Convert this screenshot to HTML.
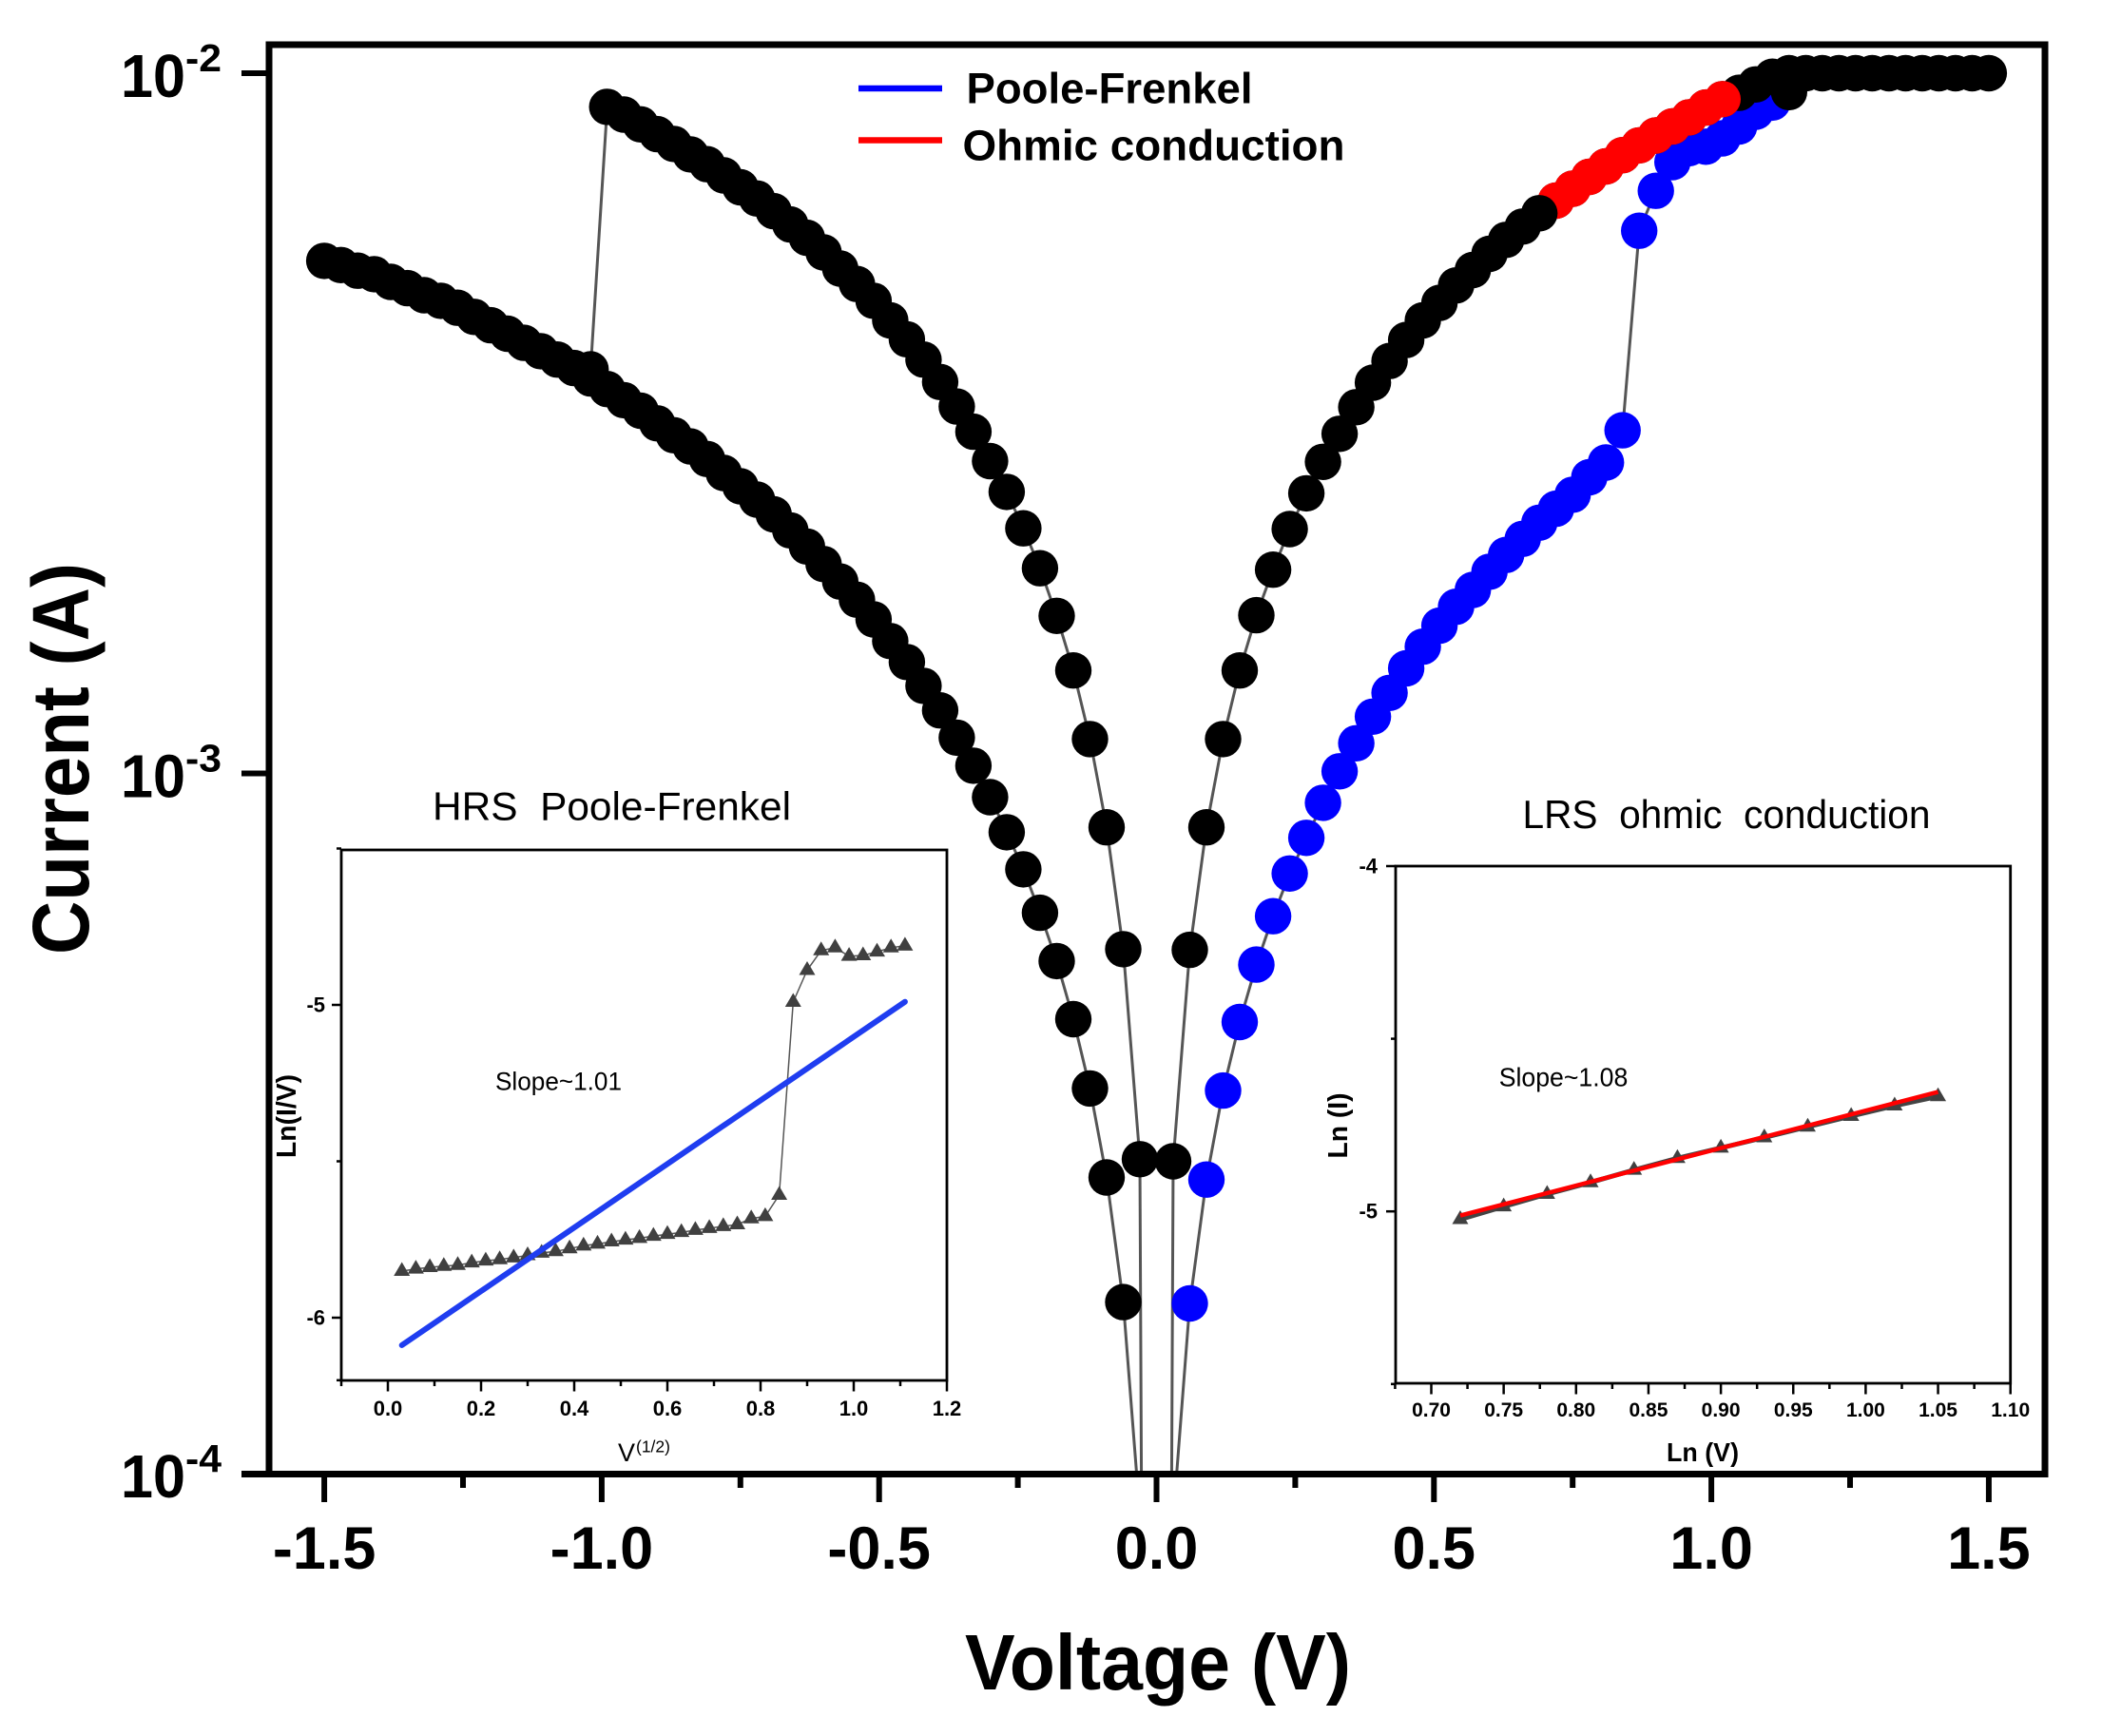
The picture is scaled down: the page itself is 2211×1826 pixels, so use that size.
<!DOCTYPE html>
<html lang="en">
<head>
<meta charset="utf-8">
<title>Current vs Voltage with conduction-mechanism insets</title>
<style>
html,body{margin:0;padding:0;background:#fff;width:2211px;height:1826px;overflow:hidden;}
svg{display:block;}
text{font-family:"Liberation Sans",sans-serif;fill:#000;}
.b{font-weight:bold;}
</style>
</head>
<body>
<svg id="chart" xmlns="http://www.w3.org/2000/svg" width="2211" height="1826" viewBox="0 0 2211 1826">
<defs><clipPath id="plot-clip"><rect x="283" y="47" width="1868" height="1503"></rect></clipPath></defs>
<rect x="0" y="0" width="2211" height="1826" fill="#fff"></rect>
<g id="main-lines" clip-path="url(#plot-clip)"></g>
<g id="main-markers" clip-path="url(#plot-clip)"></g>
<g id="main-axes"></g>
<text class="b" x="1218" y="1777" font-size="83" text-anchor="middle" textLength="406" lengthAdjust="spacingAndGlyphs">Voltage (V)</text>
<text class="b" transform="translate(93,798) rotate(-90)" font-size="84" text-anchor="middle" textLength="412" lengthAdjust="spacingAndGlyphs">Current (A)</text>

<g>
<line x1="903" y1="93" x2="991" y2="93" stroke="#0000ff" stroke-width="6.5"></line>
<text class="b" x="1016.5" y="108.6" font-size="45" textLength="301" lengthAdjust="spacingAndGlyphs">Poole-Frenkel</text>
<line x1="903" y1="147.5" x2="991" y2="147.5" stroke="#ff0000" stroke-width="6.5"></line>
<text class="b" x="1012.5" y="168.4" font-size="45" textLength="402" lengthAdjust="spacingAndGlyphs">Ohmic conduction</text>
</g>

<g id="inset-hrs"></g>
<text x="455" y="862.7" font-size="42" textLength="377" lengthAdjust="spacingAndGlyphs">HRS&#160;&#160;Poole-Frenkel</text>
<text x="521" y="1146.5" font-size="27" textLength="133" lengthAdjust="spacingAndGlyphs">Slope~1.01</text>
<text class="b" transform="translate(311,1174) rotate(-90)" font-size="29" text-anchor="middle" textLength="88" lengthAdjust="spacingAndGlyphs">Ln(I/V)</text>
<text x="650" y="1537" font-size="27">V</text>
<text x="669" y="1527.7" font-size="17.5">(1/2)</text>

<g id="inset-lrs"></g>
<text x="1601.5" y="871" font-size="42" textLength="429" lengthAdjust="spacingAndGlyphs">LRS&#160;&#160;ohmic&#160;&#160;conduction</text>
<text x="1576.7" y="1142.7" font-size="28" textLength="135.6" lengthAdjust="spacingAndGlyphs">Slope~1.08</text>
<text class="b" transform="translate(1417,1184) rotate(-90)" font-size="29" text-anchor="middle" textLength="69" lengthAdjust="spacingAndGlyphs">Ln (I)</text>
<text class="b" x="1753" y="1537" font-size="28" textLength="76" lengthAdjust="spacingAndGlyphs">Ln (V)</text>
</svg>

<script>
// ---------- main chart data: voltage magnitude grid and log10(current) per branch ----------
const voltageMagnitude = [0,0.03,0.06,0.09,0.12,0.15,0.18,0.21,0.24,0.27,0.30,0.33,0.36,0.39,0.42,0.45,0.48,0.51,0.54,0.57,0.60,0.63,0.66,0.69,0.72,0.75,0.78,0.81,0.84,0.87,0.90,0.93,0.96,0.99,1.02,1.05,1.08,1.11,1.14,1.17,1.20,1.23,1.26,1.29,1.32,1.35,1.38,1.41,1.44,1.47,1.50];

const negLowerLogI = [null,-4.06,-3.755,-3.577,-3.450,-3.351,-3.268,-3.199,-3.137,-3.084,-3.034,-2.989,-2.949,-2.910,-2.875,-2.841,-2.811,-2.780,-2.752,-2.726,-2.701,-2.676,-2.653,-2.630,-2.609,-2.590,-2.571,-2.551,-2.533,-2.517,-2.500,-2.482,-2.467,-2.451,-2.436,-2.421,-2.409,-2.397,-2.385,-2.372,-2.360,-2.348,-2.335,-2.325,-2.317,-2.307,-2.298,-2.287,-2.282,-2.274,-2.268];

const negUpperLogI = [null,-3.551,-3.251,-3.077,-2.951,-2.853,-2.775,-2.707,-2.650,-2.598,-2.554,-2.512,-2.476,-2.441,-2.409,-2.380,-2.353,-2.325,-2.301,-2.279,-2.256,-2.235,-2.216,-2.197,-2.179,-2.163,-2.146,-2.130,-2.116,-2.101,-2.087,-2.073,-2.059,-2.048,-2.423];

const posUpperLogI = [null,-3.554,-3.252,-3.077,-2.951,-2.853,-2.774,-2.709,-2.651,-2.600,-2.555,-2.515,-2.477,-2.442,-2.411,-2.381,-2.353,-2.328,-2.303,-2.281,-2.258,-2.238,-2.219,-2.200,-2.182,-2.165,-2.148,-2.133,-2.117,-2.103,-2.089,-2.076,-2.063,-2.049,-2.037,-2.028,-2.016,-2.005,-2,-2,-2,-2,-2,-2,-2,-2,-2,-2,-2,-2,-2];

const posLowerLogI = [null,-4.065,-3.757,-3.580,-3.453,-3.355,-3.273,-3.204,-3.143,-3.092,-3.042,-2.997,-2.957,-2.919,-2.885,-2.850,-2.819,-2.789,-2.762,-2.738,-2.712,-2.688,-2.665,-2.642,-2.622,-2.602,-2.577,-2.556,-2.510,-2.225,-2.168,-2.127,-2.107,-2.105,-2.093,-2.076,-2.055,-2.042];

const ohmicVoltage = [0.72,0.75,0.78,0.81,0.84,0.87,0.90,0.93,0.96,0.99,1.02];
const ohmicLogI = [-2.182,-2.165,-2.148,-2.133,-2.117,-2.103,-2.089,-2.076,-2.063,-2.049,-2.037];

const overlayVoltage = [0.69,1.14];
const overlayLogI = [-2.200,-2.027];

// the steep segments toward V = 0 leave the plot just under V = 0.03; one end point each
const nearZeroVoltage = [0.0273];
const nearZeroLogI = [-4.01];

const xTickValues = [-1.5,-1.0,-0.5,0.0,0.5,1.0,1.5];
const xTickLabels = ["-1.5","-1.0","-0.5","0.0","0.5","1.0","1.5"];
const xMinorTicks = [-1.25,-0.75,-0.25,0.25,0.75,1.25];
const yTickExponents = [-2,-3,-4];

// ---------- HRS inset data ----------
const hrsX = [0.03,0.06,0.09,0.12,0.15,0.18,0.21,0.24,0.27,0.30,0.33,0.36,0.39,0.42,0.45,0.48,0.51,0.54,0.57,0.60,0.63,0.66,0.69,0.72,0.75,0.78,0.81,0.84,0.87,0.90,0.93,0.96,0.99,1.02,1.05,1.08,1.11];
const hrsY = [-5.851,-5.844,-5.839,-5.835,-5.832,-5.824,-5.818,-5.814,-5.808,-5.801,-5.793,-5.788,-5.779,-5.770,-5.764,-5.757,-5.751,-5.746,-5.739,-5.733,-5.727,-5.720,-5.714,-5.708,-5.702,-5.683,-5.676,-5.608,-4.991,-4.889,-4.826,-4.817,-4.844,-4.842,-4.830,-4.817,-4.811];
const hrsFitX = [0.03,1.11];
const hrsFitY = [-6.088,-4.990];
const hrsXTicks = [0.0,0.2,0.4,0.6,0.8,1.0,1.2];
const hrsXLabels = ["0.0","0.2","0.4","0.6","0.8","1.0","1.2"];
const hrsXMinor = [-0.1,0.1,0.3,0.5,0.7,0.9,1.1];
const hrsYTicks = [-5,-6];
const hrsYLabels = ["-5","-6"];
const hrsYMinor = [-4.5,-5.5,-6.2];

// ---------- LRS inset data ----------
const lrsX = [0.72,0.75,0.78,0.81,0.84,0.87,0.90,0.93,0.96,0.99,1.02,1.05];
const lrsY = [-5.023,-4.986,-4.950,-4.916,-4.880,-4.846,-4.816,-4.786,-4.755,-4.724,-4.694,-4.667];
const lrsFitX = [0.72,1.05];
const lrsFitY = [-5.012,-4.654];
const lrsXTicks = [0.70,0.75,0.80,0.85,0.90,0.95,1.00,1.05,1.10];
const lrsXLabels = ["0.70","0.75","0.80","0.85","0.90","0.95","1.00","1.05","1.10"];
const lrsXMinor = [0.675,0.725,0.775,0.825,0.875,0.925,0.975,1.025,1.075];
const lrsYTicks = [-4,-5];
const lrsYLabels = ["-4","-5"];
const lrsYMinor = [-4.5,-5.5];

// ---------- helpers ----------
const NS = "http://www.w3.org/2000/svg";
function mk(parent, tag, attrs, txt){
  const n = document.createElementNS(NS, tag);
  for (const k in attrs) n.setAttribute(k, attrs[k]);
  if (txt !== undefined) n.textContent = txt;
  parent.appendChild(n);
  return n;
}
function xMain(v){ return 1216.5 + v * 583.6; }
function yMain(logI){ return 77 + (-2 - logI) * 736.5; }
function xHrs(v){ return 408 + v * 490; }
function yHrs(v){ return 1057 + (-5 - v) * 329; }
function xLrs(v){ return 1505.5 + (v - 0.70) * 1523; }
function yLrs(v){ return 911 + (-4 - v) * 363.2; }

const lineLayer = document.getElementById("main-lines");
const markerLayer = document.getElementById("main-markers");
const axisLayer = document.getElementById("main-axes");

function branchPoints(sign, values){
  const pts = [];
  values.forEach(function(val, i){
    if (val === null) return;
    pts.push([xMain(sign * voltageMagnitude[i]), yMain(val)]);
  });
  return pts;
}
function drawBranchLine(pts, name){
  const el = mk(lineLayer, "polyline", {points: pts.map(function(p){return p[0].toFixed(1)+","+p[1].toFixed(1);}).join(" "), fill:"none", stroke:"#555", "stroke-width":3});
  
  
}
function drawBranchMarkers(pts, color, name){
  pts.forEach(function(p){
    if (p[1] > 1569) return;
    const c = mk(markerLayer, "circle", {cx:p[0].toFixed(1), cy:p[1].toFixed(1), r:19.2, fill:color});
    
    
  });
}

// ---------- main series ----------
const negLowerPts = branchPoints(-1, negLowerLogI);
const negUpperPts = branchPoints(-1, negUpperLogI);
const posUpperPts = branchPoints(1, posUpperLogI);
const posLowerPts = branchPoints(1, posLowerLogI);

drawBranchLine(negLowerPts, "negative-lower-line");
drawBranchLine([[xMain(-nearZeroVoltage[0]), yMain(nearZeroLogI[0])]].concat(negUpperPts), "negative-upper-line");
drawBranchLine([[xMain(nearZeroVoltage[0]), yMain(nearZeroLogI[0])]].concat(posUpperPts), "positive-upper-line");
drawBranchLine(posLowerPts, "positive-lower-line");

drawBranchMarkers(negLowerPts, "#000", "negative-lower-point");
drawBranchMarkers(negUpperPts, "#000", "negative-upper-point");
drawBranchMarkers(posLowerPts, "#0000ff", "poole-frenkel-point");
drawBranchMarkers(posUpperPts, "#000", "positive-upper-point");
drawBranchMarkers(ohmicVoltage.map(function(v,i){return [xMain(v), yMain(ohmicLogI[i])];}), "#ff0000", "ohmic-point");
drawBranchMarkers(overlayVoltage.map(function(v,i){return [xMain(v), yMain(overlayLogI[i])];}), "#000", "overlay-point");

// ---------- main axes ----------
const frame = mk(axisLayer, "path", {d:"M283 1550.5V47H2151V1550.5", fill:"none", stroke:"#000", "stroke-width":7});


const xAxisLine = mk(axisLayer, "line", {x1:254, y1:1550.5, x2:2154.5, y2:1550.5, stroke:"#000", "stroke-width":7});



xTickValues.forEach(function(v, i){
  const t = mk(axisLayer, "line", {x1:xMain(v), y1:1550, x2:xMain(v), y2:1580, stroke:"#000", "stroke-width":6});
  
  
  const l = mk(axisLayer, "text", {x:xMain(v), y:1650, "font-size":63, "font-weight":"bold", "text-anchor":"middle"}, xTickLabels[i]);
  
  
});
xMinorTicks.forEach(function(v){
  const t = mk(axisLayer, "line", {x1:xMain(v), y1:1550, x2:xMain(v), y2:1565, stroke:"#000", "stroke-width":6});
  
  
});
yTickExponents.forEach(function(e){
  const y = yMain(e);
  if (e !== -4) {
    const t = mk(axisLayer, "line", {x1:254, y1:y, x2:283, y2:y, stroke:"#000", "stroke-width":6});
    
    
  }
  const base = mk(axisLayer, "text", {x:127, y:y + 25, "font-size":64, "font-weight":"bold", textLength:68, lengthAdjust:"spacingAndGlyphs"}, "10");
  
  
  const ex = mk(axisLayer, "text", {x:195, y:y - 2, "font-size":41, "font-weight":"bold", textLength:38, lengthAdjust:"spacingAndGlyphs"}, String(e));
  
  
});

// ---------- inset helpers ----------
function triangle(g, cx, cy, name){
  const t = mk(g, "polygon", {points:(cx-8.5)+","+(cy+5)+" "+(cx+8.5)+","+(cy+5)+" "+cx+","+(cy-9.5), fill:"#404040"});
  
  
}
function drawInsetTicks(g, box, xf, yf, xMaj, xLab, xMin, yMaj, yLab, yMin, labY, yLabX, xSize, ySize){
  xMaj.forEach(function(v, i){
    const t = mk(g, "line", {x1:xf(v), y1:box.b, x2:xf(v), y2:box.b + 11.5, stroke:"#000", "stroke-width":2.5});
    
    
    const l = mk(g, "text", {x:xf(v), y:labY, "font-size":xSize, "font-weight":"bold", "text-anchor":"middle"}, xLab[i]);
    
    
  });
  xMin.forEach(function(v){
    const t = mk(g, "line", {x1:xf(v), y1:box.b, x2:xf(v), y2:box.b + 6, stroke:"#000", "stroke-width":2.5});
    
    
  });
  yMaj.forEach(function(v, i){
    const t = mk(g, "line", {x1:box.l - 10, y1:yf(v), x2:box.l, y2:yf(v), stroke:"#000", "stroke-width":2.5});
    
    
    const l = mk(g, "text", {x:yLabX, y:yf(v) + 7.5, "font-size":ySize, "font-weight":"bold", "text-anchor":"end"}, yLab[i]);
    
    
  });
  yMin.forEach(function(v){
    const t = mk(g, "line", {x1:box.l - 5, y1:yf(v), x2:box.l, y2:yf(v), stroke:"#000", "stroke-width":2.5});
    
    
  });
  const f = mk(g, "rect", {x:box.l, y:box.t, width:box.r - box.l, height:box.b - box.t, fill:"none", stroke:"#000", "stroke-width":2.8});
  
  
}

// ---------- HRS inset ----------
const hrsG = document.getElementById("inset-hrs");
const hrsBox = {l:359, r:996, t:894, b:1452};
drawInsetTicks(hrsG, hrsBox, xHrs, yHrs, hrsXTicks, hrsXLabels, hrsXMinor, hrsYTicks, hrsYLabels, hrsYMinor, 1489, 342, 22, 22);
const hrsLine = mk(hrsG, "polyline", {points:hrsX.map(function(v,i){return xHrs(v).toFixed(1)+","+yHrs(hrsY[i]).toFixed(1);}).join(" "), fill:"none", stroke:"#555", "stroke-width":1.5});


hrsX.forEach(function(v, i){ triangle(hrsG, xHrs(v), yHrs(hrsY[i]), "hrs-data-point"); });
const hrsFit = mk(hrsG, "line", {x1:xHrs(hrsFitX[0]), y1:yHrs(hrsFitY[0]), x2:xHrs(hrsFitX[1]), y2:yHrs(hrsFitY[1]), stroke:"#1f3df0", "stroke-width":6, "stroke-linecap":"round"});



// ---------- LRS inset ----------
const lrsG = document.getElementById("inset-lrs");
const lrsBox = {l:1468, r:2114.7, t:911, b:1455};
drawInsetTicks(lrsG, lrsBox, xLrs, yLrs, lrsXTicks, lrsXLabels, lrsXMinor, lrsYTicks, lrsYLabels, lrsYMinor, 1490, 1449, 21, 22);
const lrsLine = mk(lrsG, "polyline", {points:lrsX.map(function(v,i){return xLrs(v).toFixed(1)+","+yLrs(lrsY[i]).toFixed(1);}).join(" "), fill:"none", stroke:"#444", "stroke-width":5});


lrsX.forEach(function(v, i){ triangle(lrsG, xLrs(v), yLrs(lrsY[i]), "lrs-data-point"); });
const lrsFit = mk(lrsG, "line", {x1:xLrs(lrsFitX[0]), y1:yLrs(lrsFitY[0]), x2:xLrs(lrsFitX[1]), y2:yLrs(lrsFitY[1]), stroke:"#ff0000", "stroke-width":4.5});


</script>
</body>
</html>
